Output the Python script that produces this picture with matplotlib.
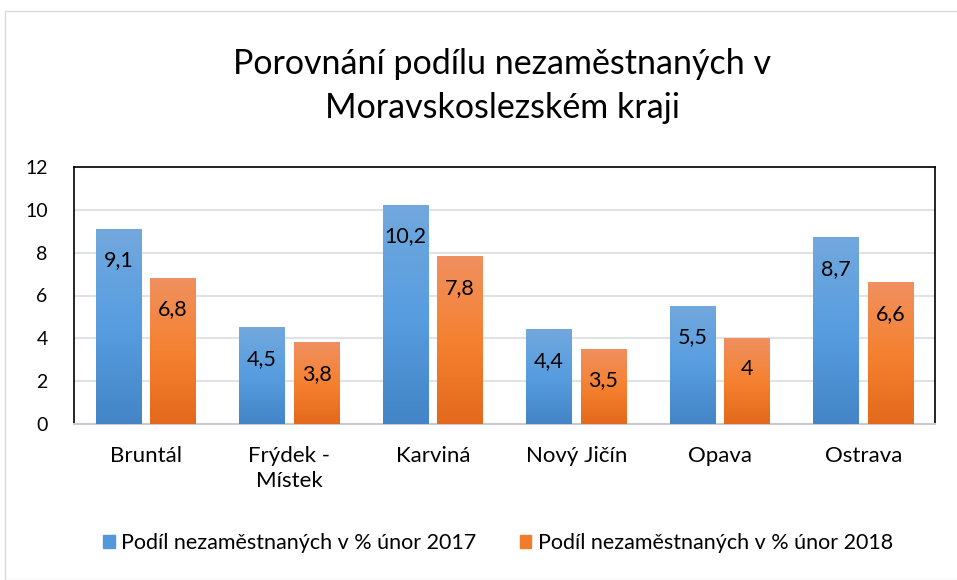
import matplotlib.pyplot as plt
import numpy as np
from matplotlib.colors import LinearSegmentedColormap
from matplotlib.patches import Rectangle

# data
okresy = ['Bruntál', 'Frýdek -\nMístek', 'Karviná', 'Nový Jičín', 'Opava', 'Ostrava']
podil_2017 = [9.1, 4.5, 10.2, 4.4, 5.5, 8.7]
podil_2018 = [6.8, 3.8, 7.8, 3.5, 4.0, 6.6]
popisky_2017 = ['9,1', '4,5', '10,2', '4,4', '5,5', '8,7']
popisky_2018 = ['6,8', '3,8', '7,8', '3,5', '4', '6,6']
nazvy = ['Podíl nezaměstnaných v % únor 2017', 'Podíl nezaměstnaných v % únor 2018']

plt.rcParams['font.family'] = ['Lato', 'DejaVu Sans']

modra = LinearSegmentedColormap.from_list('m', ['#4385c7', '#579de0', '#72a8dd'])
oranz = LinearSegmentedColormap.from_list('o', ['#e3691c', '#f58130', '#f09060'])

fig = plt.figure(figsize=(9.57, 5.8), dpi=100)
ax = fig.add_axes([74/957, 1-424/580, 861/957, 257/580])

x = np.arange(len(okresy))
sirka = 0.314
posun = 0.19
grad = np.linspace(0, 1, 256).reshape(-1, 1)

for hodnoty, popisky, cmap, d in [(podil_2017, popisky_2017, modra, -posun),
                                   (podil_2018, popisky_2018, oranz, posun)]:
    bars = ax.bar(x + d, hodnoty, sirka, color='none', zorder=3)
    for b, lab in zip(bars, popisky):
        x0, w, h = b.get_x(), b.get_width(), b.get_height()
        ax.imshow(grad, cmap=cmap, aspect='auto', origin='lower',
                  extent=(x0, x0 + w, 0, h), zorder=3)
        ax.annotate(lab, (x0 + w / 2, h), xytext=(0, -31), textcoords='offset pixels',
                    ha='center', va='center', fontsize=15.5, color='black', zorder=4)

ax.set_xlim(-0.5, len(okresy) - 0.5)
ax.set_ylim(0, 12)
ax.set_yticks(range(0, 13, 2))
ax.set_xticks(x)
ax.set_xticklabels(okresy, fontsize=16, linespacing=1.3, va='top')
ax.tick_params(axis='y', labelsize=14, length=0, pad=19)
ax.tick_params(axis='x', length=0, pad=16)
ax.grid(axis='y', color='#dfe3e8', linewidth=1.5, zorder=0)
ax.set_axisbelow(True)
for s in ['left', 'right', 'top']:
    ax.spines[s].set_color('black')
    ax.spines[s].set_linewidth(1.2)
ax.spines['bottom'].set_color('#c8ccd0')
ax.spines['bottom'].set_linewidth(1.5)

fig.text(502/957, 1 - 64/580, 'Porovnání podílu nezaměstnaných v', ha='center', va='center', fontsize=24.5)
fig.text(502/957, 1 - 108/580, 'Moravskoslezském kraji', ha='center', va='center', fontsize=24.5)

uchyty = [Rectangle((0, 0), 1, 1, color=modra(0.4)), Rectangle((0, 0), 1, 1, color=oranz(0.4))]
fig.legend(uchyty, nazvy, loc='center', bbox_to_anchor=(498/957, 1 - 543/580), ncol=2,
           frameon=False, fontsize=15.5, handlelength=0.55, handleheight=0.55,
           handletextpad=0.3, columnspacing=2.0)

fig.patches.append(Rectangle((5/957, 0), 1, 1 - 11/580, transform=fig.transFigure,
                             fill=False, edgecolor='#d9d9d9', linewidth=1))

fig.savefig('out.png', dpi=100)
